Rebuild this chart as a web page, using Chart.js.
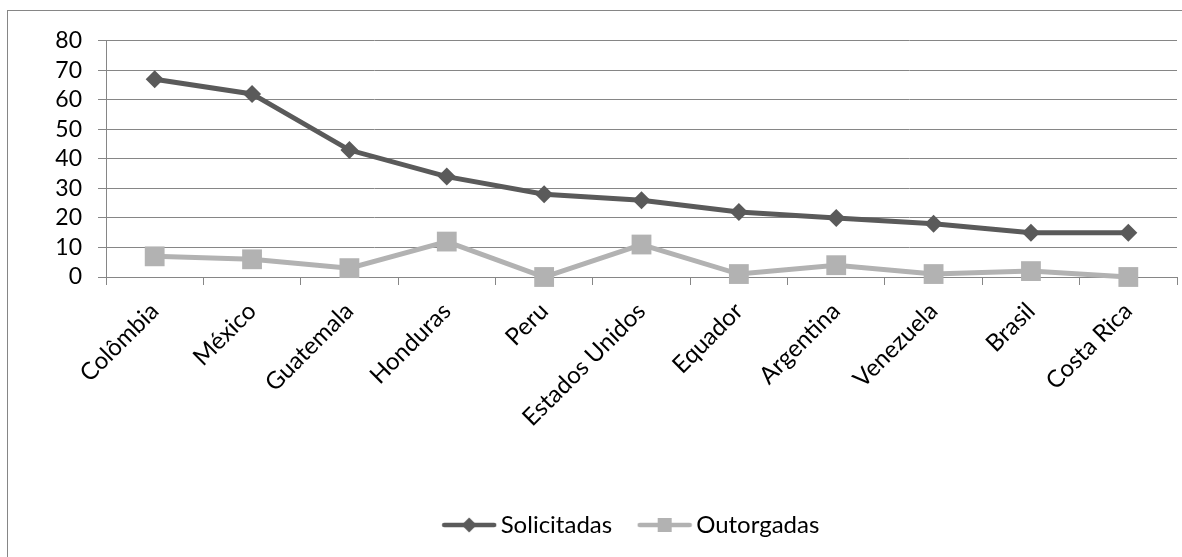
<!DOCTYPE html>
<html>
<head>
<meta charset="utf-8">
<script src="https://cdn.jsdelivr.net/npm/chart.js@4.4.1/dist/chart.umd.min.js"></script>
<style>
  html, body { margin: 0; padding: 0; background: #fff; overflow: hidden; }
  #frame { position: absolute; left: 7px; top: 10px; width: 1200px; height: 600px;
           border-left: 1px solid #868686; border-top: 1px solid #868686; }
  #wrap { position: absolute; left: 0; top: 0; width: 1174px; height: 546px; }
</style>
</head>
<body>
<div id="frame"><div id="wrap"><canvas id="grafico"></canvas></div></div>
<script>
// Solicitações e outorgas por país
const paises = ['Colômbia', 'México', 'Guatemala', 'Honduras', 'Peru', 'Estados Unidos',
  'Equador', 'Argentina', 'Venezuela', 'Brasil', 'Costa Rica'];
const solicitadas = [67, 62, 43, 34, 28, 26, 22, 20, 18, 15, 15];
const outorgadas = [7, 6, 3, 12, 0, 11, 1, 4, 1, 2, 0];
const eixoY = { min: 0, max: 80, passo: 10 };

const COR_ESCURA = '#5a5a5a';
const COR_CLARA = '#b2b2b2';
const COR_GRADE = '#868686';

// ícone da legenda: linha com o marcador no meio (estilo Excel)
function iconeLegenda(cor, tipo) {
  const c = document.createElement('canvas');
  c.width = 56; c.height = 20;
  const g = c.getContext('2d');
  g.strokeStyle = cor; g.fillStyle = cor;
  g.lineWidth = 4.5; g.lineCap = 'round';
  g.beginPath(); g.moveTo(3, 10); g.lineTo(53, 10); g.stroke();
  g.beginPath();
  if (tipo === 'losango') {
    g.moveTo(28, 2.5); g.lineTo(35.5, 10); g.lineTo(28, 17.5); g.lineTo(20.5, 10);
  } else {
    g.rect(21, 3, 14, 14);
  }
  g.closePath(); g.fill();
  return c;
}
const icones = [iconeLegenda(COR_ESCURA, 'losango'), iconeLegenda(COR_CLARA, 'quadrado')];

// a legenda do Excel fica centrada um pouco mais à direita
const deslocaLegenda = {
  id: 'deslocaLegenda',
  afterLayout(chart) {
    if (!chart.legend) return;
    chart.legend.left += 22;
    chart.legend.right += 22;
  }
};

Chart.defaults.font.family = 'Lato, "Open Sans", sans-serif';
Chart.defaults.font.size = 23;
Chart.defaults.color = '#000';

new Chart(document.getElementById('grafico'), {
  type: 'line',
  data: {
    labels: paises,
    datasets: [
      {
        label: 'Solicitadas', data: solicitadas,
        borderColor: COR_ESCURA, backgroundColor: COR_ESCURA, borderWidth: 5,
        pointStyle: 'rectRot', pointRadius: 9, pointBorderWidth: 0,
        pointBackgroundColor: COR_ESCURA, clip: false
      },
      {
        label: 'Outorgadas', data: outorgadas,
        borderColor: COR_CLARA, backgroundColor: COR_CLARA, borderWidth: 5,
        pointStyle: 'rect', pointRadius: 14, pointBorderWidth: 0,
        pointBackgroundColor: COR_CLARA, clip: false
      }
    ]
  },
  plugins: [deslocaLegenda],
  options: {
    responsive: true,
    maintainAspectRatio: false,
    animation: false,
    layout: { autoPadding: false, padding: { left: 40, right: 5, top: 27, bottom: 10 } },
    plugins: {
      tooltip: { enabled: false },
      legend: {
        position: 'bottom',
        labels: {
          usePointStyle: true,
          pointStyleWidth: 39,
          padding: 33,
          font: { size: 24 },
          generateLabels: chart => Chart.defaults.plugins.legend.labels.generateLabels(chart)
            .map((it, i) => ({ ...it, pointStyle: icones[i] }))
        }
      }
    },
    scales: {
      x: {
        offset: true,
        grid: { offset: true, drawOnChartArea: false, drawTicks: true, tickLength: 8, color: COR_GRADE },
        border: { color: COR_GRADE },
        ticks: { minRotation: 45, maxRotation: 45, padding: 12, autoSkip: false, font: { size: 24 } },
        afterFit: s => { s.height = 203; }
      },
      y: {
        min: eixoY.min, max: eixoY.max,
        grid: { color: COR_GRADE, tickLength: 8 },
        border: { color: COR_GRADE },
        ticks: { stepSize: eixoY.passo, padding: 16, autoSkip: false, maxTicksLimit: 20 },
        afterFit: s => { s.width = 58; }
      }
    }
  }
});
</script>
</body>
</html>
